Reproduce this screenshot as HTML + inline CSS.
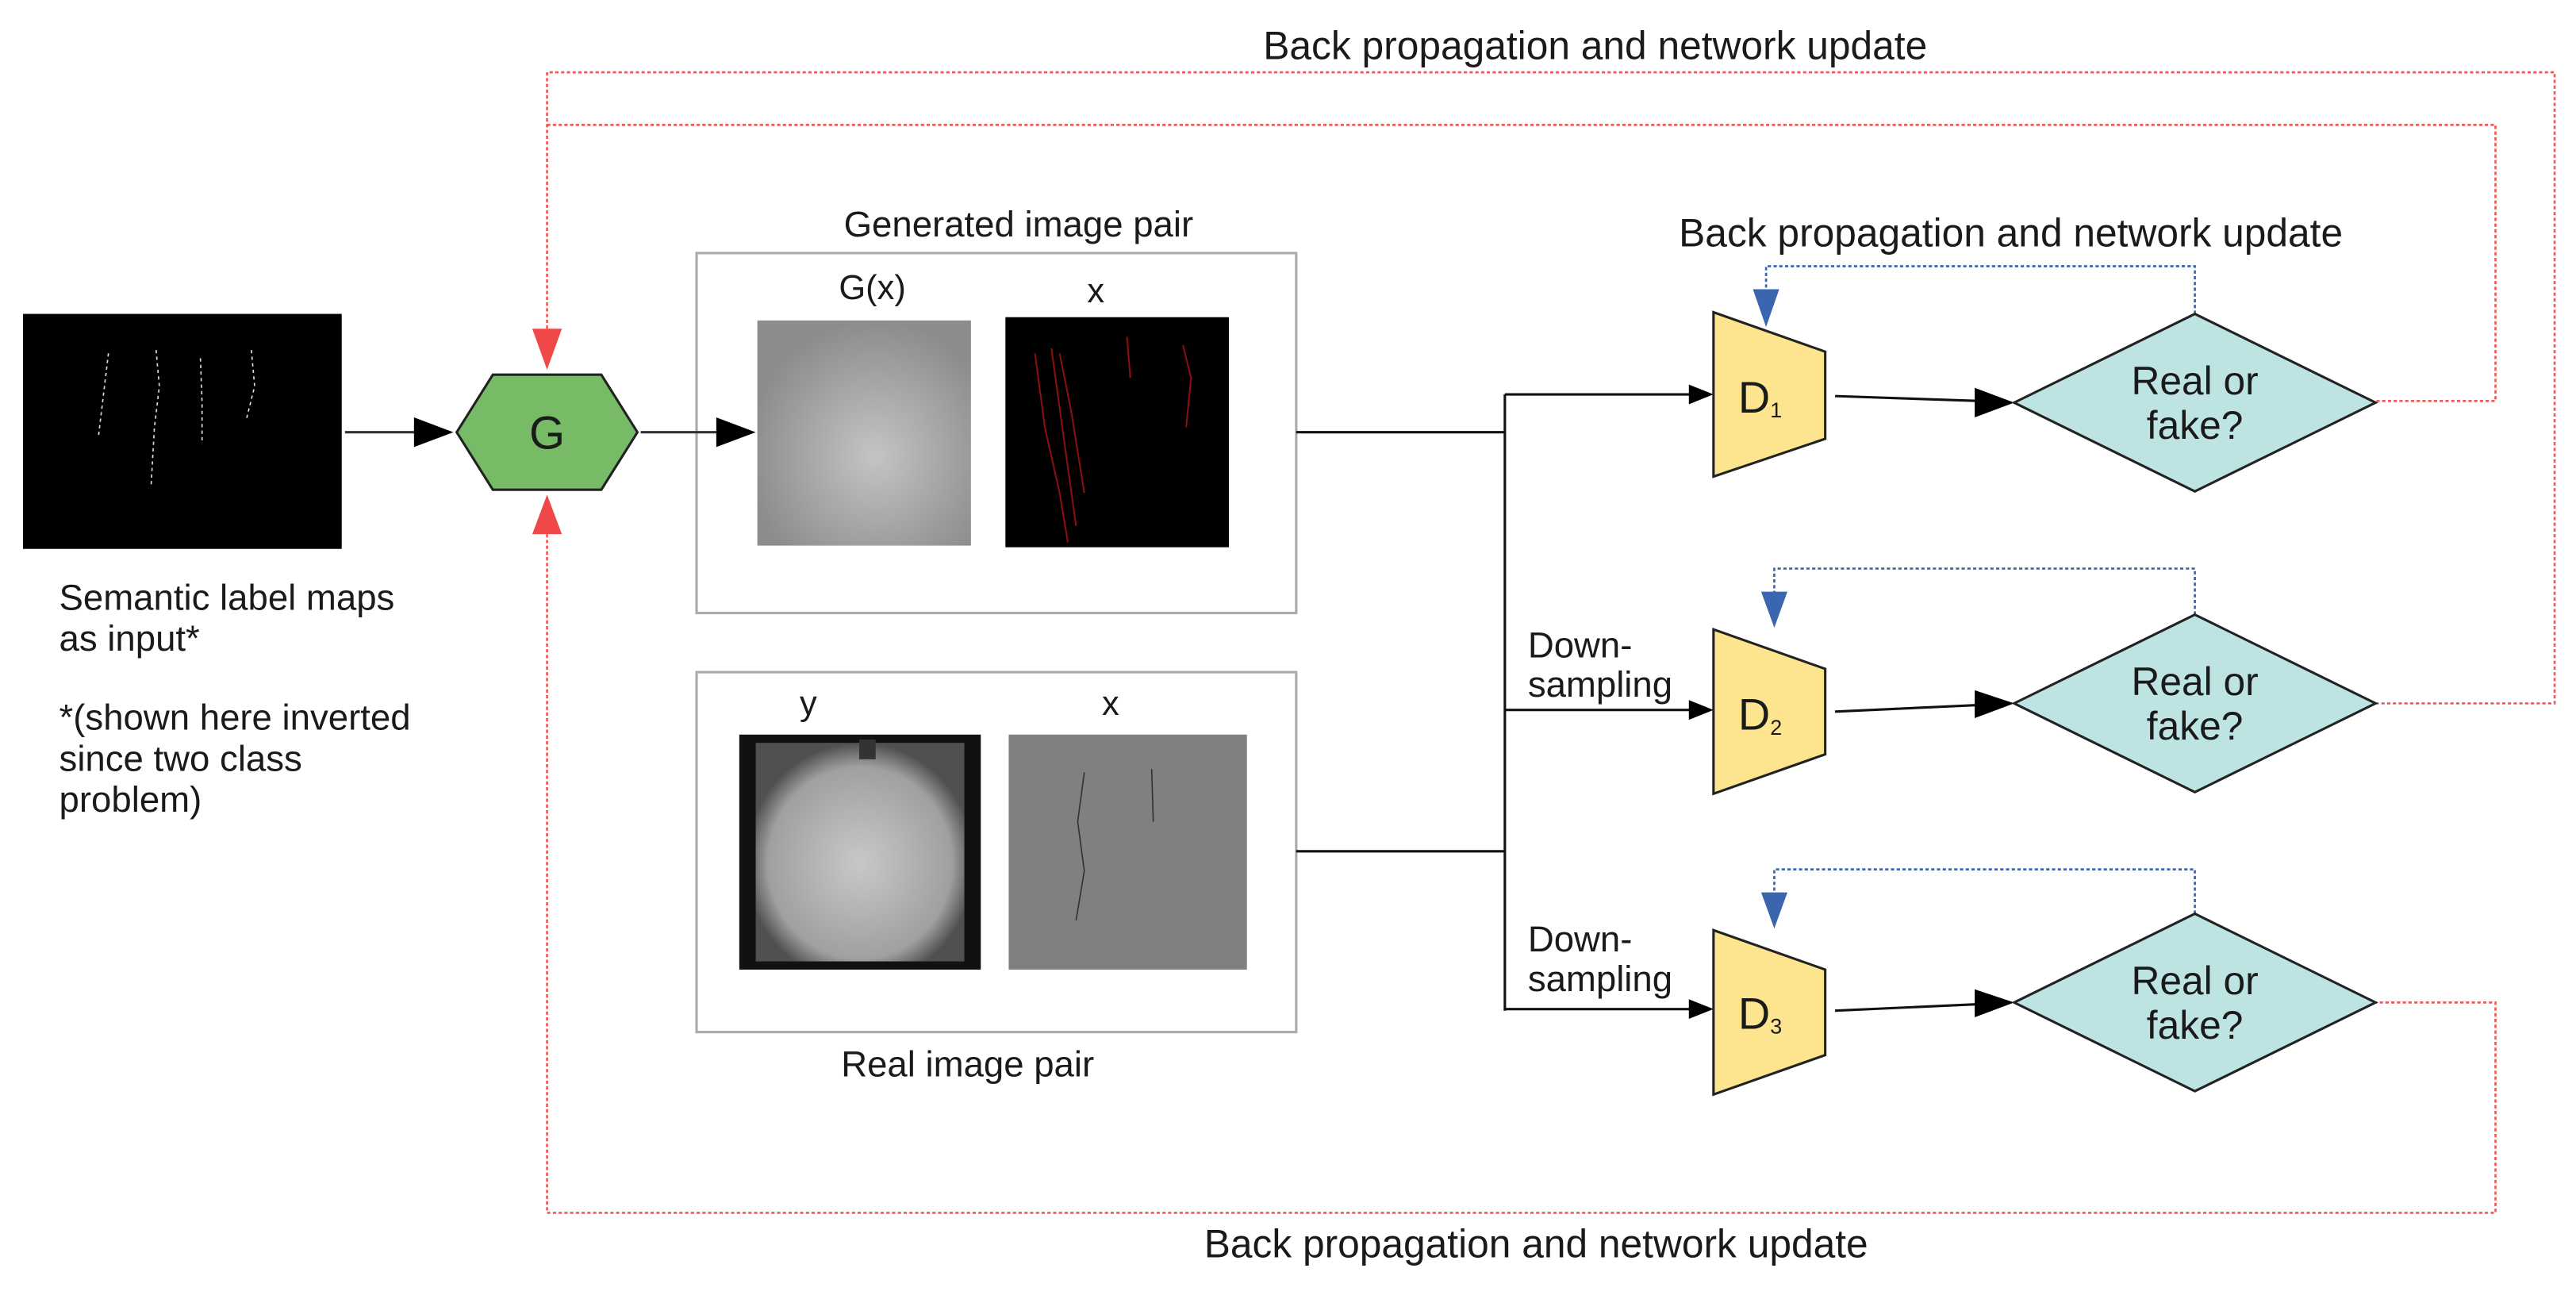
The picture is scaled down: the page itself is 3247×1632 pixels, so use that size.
<!DOCTYPE html>
<html><head><meta charset="utf-8"><style>
html,body{margin:0;padding:0;background:#fff;}
svg{display:block;}
text{font-family:"Liberation Sans",Arial,sans-serif;fill:#1a1a1a;}
</style></head><body>
<svg width="3247" height="1632" viewBox="0 0 1568 788" preserveAspectRatio="none" xmlns="http://www.w3.org/2000/svg">
<defs>
<radialGradient id="g1" cx="0.55" cy="0.6" r="0.6"><stop offset="0" stop-color="#c4c4c4"/><stop offset="1" stop-color="#8c8c8c"/></radialGradient>
<radialGradient id="g2" cx="0.5" cy="0.55" r="0.55"><stop offset="0" stop-color="#c8c8c8"/><stop offset="0.8" stop-color="#a0a0a0"/><stop offset="1" stop-color="#505050"/></radialGradient>
</defs>
<!-- red dotted feedback -->
<g fill="none" stroke="#f05a5a" stroke-width="1.3" stroke-dasharray="2,1.5">
<polyline points="333,200 333,44 1555,44 1555,428 1446,428"/>
<polyline points="333,76 1519,76 1519,244 1446,244"/>
<polyline points="333,325 333,738 1519,738 1519,610 1446,610"/>
</g>
<polygon points="324,200 342,200 333,225" fill="#f04848"/>
<polygon points="324,325 342,325 333,301" fill="#f04848"/>
<!-- blue dotted -->
<g fill="none" stroke="#3a66b0" stroke-width="1.3" stroke-dasharray="2,1.5">
<polyline points="1336,191 1336,162 1075,162 1075,178"/>
<polyline points="1336,374 1336,346 1080,346 1080,362"/>
<polyline points="1336,556 1336,529 1080,529 1080,545"/>
</g>
<g fill="#3a66b0">
<polygon points="1067,176 1083,176 1075,199"/>
<polygon points="1072,360 1088,360 1080,382"/>
<polygon points="1072,543 1088,543 1080,565"/>
</g>
<!-- titles -->
<text x="971" y="36" font-size="24" text-anchor="middle">Back propagation and network update</text>
<text x="1224" y="150" font-size="24" text-anchor="middle">Back propagation and network update</text>
<text x="935" y="765" font-size="24" text-anchor="middle">Back propagation and network update</text>
<!-- input -->
<rect x="14" y="191" width="194" height="143" fill="#000"/>
<g stroke="#ddd" stroke-width="0.8" fill="none" stroke-dasharray="2,2">
<path d="M66,215 L63,240 L60,265"/><path d="M95,213 L97,235 L94,260 L92,295"/><path d="M122,218 L123,245 L123,270"/><path d="M153,213 L155,235 L150,255"/>
</g>
<text x="36" y="371" font-size="22">Semantic label maps</text>
<text x="36" y="396" font-size="22">as input*</text>
<text x="36" y="444" font-size="22">*(shown here inverted</text>
<text x="36" y="469" font-size="22">since two class</text>
<text x="36" y="494" font-size="22">problem)</text>
<!-- generated box -->
<text x="620" y="144" font-size="22" text-anchor="middle">Generated image pair</text>
<rect x="424" y="154" width="365" height="219" fill="#fff" stroke="#aaa" stroke-width="1.5"/>
<text x="531" y="182" font-size="21" text-anchor="middle">G(x)</text>
<text x="667" y="184" font-size="21" text-anchor="middle">x</text>
<rect x="461" y="195" width="130" height="137" fill="url(#g1)"/>
<rect x="612" y="193" width="136" height="140" fill="#000"/>
<g stroke="#8a1010" stroke-width="1" fill="none">
<path d="M630,215 L636,260 L645,300 L650,330"/><path d="M640,212 L648,270 L655,320"/><path d="M645,215 L652,250 L660,300"/><path d="M720,210 L725,230 L722,260"/><path d="M686,205 L688,230"/>
</g>
<!-- arrows -->
<g stroke="#333" stroke-width="1.5"><line x1="210" y1="263" x2="255" y2="263"/><line x1="390" y1="263" x2="438" y2="263"/></g>
<polygon points="252,254 276,263 252,272" fill="#000"/>
<polygon points="436,254 460,263 436,272" fill="#000"/>
<!-- G -->
<polygon points="278,263 300,228 366,228 388,263 366,298 300,298" fill="#77bb66" stroke="#222" stroke-width="1.5"/>
<text x="333" y="273" font-size="28" text-anchor="middle">G</text>
<!-- real box -->
<rect x="424" y="409" width="365" height="219" fill="#fff" stroke="#aaa" stroke-width="1.5"/>
<text x="492" y="435" font-size="21" text-anchor="middle">y</text>
<text x="676" y="435" font-size="21" text-anchor="middle">x</text>
<rect x="450" y="447" width="147" height="143" fill="#111"/>
<rect x="460" y="452" width="127" height="133" fill="url(#g2)"/>
<rect x="523" y="450" width="10" height="12" fill="#333"/>
<rect x="614" y="447" width="145" height="143" fill="#808080"/>
<g stroke="#333" stroke-width="0.8" fill="none"><path d="M660,470 L656,500 L660,530 L655,560"/><path d="M701,468 L702,500"/></g>
<text x="589" y="655" font-size="22" text-anchor="middle">Real image pair</text>
<!-- branch lines -->
<g stroke="#111" stroke-width="1.5" fill="none">
<line x1="789" y1="263" x2="916" y2="263"/><line x1="789" y1="518" x2="916" y2="518"/>
<line x1="916" y1="240" x2="916" y2="615"/>
<line x1="916" y1="240" x2="1030" y2="240"/><line x1="916" y1="432" x2="1030" y2="432"/><line x1="916" y1="614" x2="1030" y2="614"/>
<line x1="1117" y1="241" x2="1205" y2="244"/><line x1="1117" y1="433" x2="1205" y2="429"/><line x1="1117" y1="615" x2="1205" y2="611"/>
</g>
<g fill="#000">
<polygon points="1028,234 1043,240 1028,246"/><polygon points="1028,426 1043,432 1028,438"/><polygon points="1028,608 1043,614 1028,620"/>
<polygon points="1202,236 1226,245 1202,254"/><polygon points="1202,420 1226,428 1202,437"/><polygon points="1202,602 1226,610 1202,619"/>
</g>
<g font-size="22">
<text x="930" y="400">Down-</text><text x="930" y="424">sampling</text>
<text x="930" y="579">Down-</text><text x="930" y="603">sampling</text>
</g>
<!-- D blocks -->
<g fill="#fde58f" stroke="#222" stroke-width="1.5">
<polygon points="1043,190 1111,214 1111,267 1043,290"/>
<polygon points="1043,383 1111,407 1111,459 1043,483"/>
<polygon points="1043,566 1111,590 1111,642 1043,666"/>
</g>
<text x="1058" y="251" font-size="27">D<tspan font-size="13" dy="3">1</tspan></text>
<text x="1058" y="444" font-size="27">D<tspan font-size="13" dy="3">2</tspan></text>
<text x="1058" y="626" font-size="27">D<tspan font-size="13" dy="3">3</tspan></text>
<!-- diamonds -->
<g fill="#bde3e3" stroke="#222" stroke-width="1.5">
<polygon points="1226,245 1336,191 1446,245 1336,299"/>
<polygon points="1226,428 1336,374 1446,428 1336,482"/>
<polygon points="1226,610 1336,556 1446,610 1336,664"/>
</g>
<g font-size="24" text-anchor="middle">
<text x="1336" y="240">Real or</text><text x="1336" y="267">fake?</text>
<text x="1336" y="423">Real or</text><text x="1336" y="450">fake?</text>
<text x="1336" y="605">Real or</text><text x="1336" y="632">fake?</text>
</g>
</svg>
</body></html>
